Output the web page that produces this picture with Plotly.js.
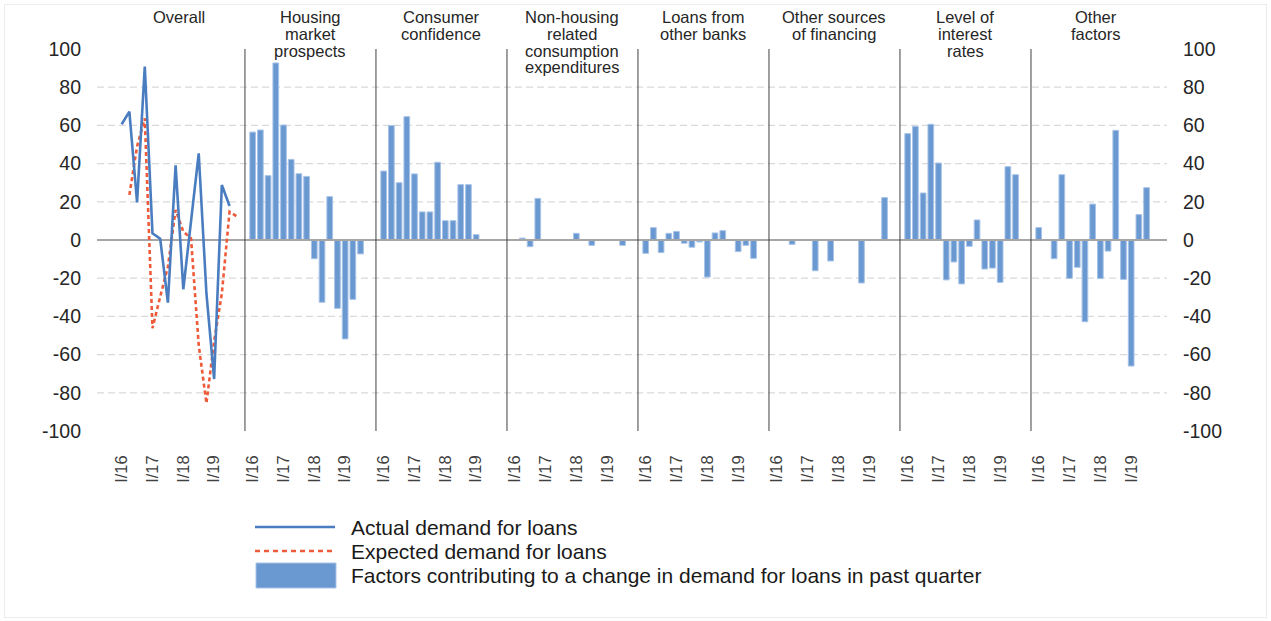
<!DOCTYPE html>
<html><head><meta charset="utf-8">
<script src="https://cdn.plot.ly/plotly-3.0.1.min.js"></script>
<style>
html,body{margin:0;padding:0;background:#fff;}
#frame{position:absolute;left:4px;top:4px;width:1261px;height:612px;border:1px solid #ececec;}
#chart{position:absolute;left:0;top:0;width:1271px;height:621px;}
</style></head><body>
<div id="frame"></div><div id="chart"></div>
<script>
// ---------------- data ----------------
const quarters = ['I/16','II/16','III/16','IV/16','I/17','II/17','III/17','IV/17','I/18','II/18','III/18','IV/18','I/19','II/19','III/19'];
const expectedQuarters = ['II/16','III/16','IV/16','I/17','II/17','III/17','IV/17','I/18','II/18','III/18','IV/18','I/19','II/19','III/19','IV/19'];
const tickQuarters = ['I/16','I/17','I/18','I/19'];
const panelTitles = ['Overall','Housing<br>market<br>prospects','Consumer<br>confidence','Non-housing<br>related<br>consumption<br>expenditures','Loans from<br>other banks','Other sources<br>of financing','Level of<br>interest<br>rates','Other<br>factors'];

const actualDemand   = [60.6, 67.2, 19.7, 90.8, 3.5, 0.7, -32.8, 39.1, -25.8, 10, 45.4, -28, -72.8, 28.8, 17.8];
const expectedDemand = [23.6, 49, 63.7, -46.2, -29.7, -14, 15.7, 4.4, 0.9, -55, -85.5, -53, -28, 14.8, 12.2];

const housingMarket        = [56.5, 57.6, 33.7, 92.7, 60.2, 42.2, 34.7, 33.3, -9.8, -32.6, 22.7, -35.8, -51.8, -31.1, -7.3];
const consumerConfidence   = [36.1, 59.9, 30.0, 64.6, 34.6, 14.7, 14.7, 40.7, 10.1, 10.1, 29.0, 29.0, 2.8, null, null];
const nonHousingConsumption= [null, 1.0, -3.5, 21.8, null, null, null, null, 3.5, null, -2.8, null, null, null, -2.8];
const loansOtherBanks      = [-7.0, 6.5, -6.6, 3.5, 4.5, -1.7, -3.8, -1.0, -19.4, 3.7, 4.9, null, -6.1, -2.8, -9.6];
const otherFinancing       = [null, null, -2.3, null, null, -16.1, null, -11.0, null, null, null, -22.5, null, null, 22.2];
const interestRates        = [55.7, 59.5, 24.6, 60.6, 40.3, -20.9, -11.5, -23.0, -3.3, 10.5, -15.2, -14.7, -22.2, 38.4, 34.2];
const otherFactors         = [6.5, null, -9.8, 34.2, -20.1, -14.3, -42.8, 18.8, -20.2, -5.8, 57.4, -20.6, -66.0, 13.3, 27.4];

const yTicks = [-100,-80,-60,-40,-20,0,20,40,60,80,100];
const gridValues = [-80,-60,-40,-20,20,40,60,80];
const legendLabels = ['Actual demand for loans','Expected demand for loans','Factors contributing to a change in demand for loans in past quarter'];

// ---------------- layout helpers ----------------
const SLOTS = 17;               // quarters + spacing per panel
const allQ = quarters.concat(['IV/19']);
function pos(panel, q){ return panel*SLOTS + 1 + allQ.indexOf(q); }
const XR = [-2.2, 136.65];
const L = 97, R = 1271-1167, T = 49, B = 621-431;
const px2x = p => (p - L)/(1271-L-R);
const px2y = p => (431 - p)/(431-49);

const BAR = '#6a98d0', BAREDGE = '#a9c4e8', BLUE = '#4a7dc0', RED = '#ee5b3a';

const barPanels = [housingMarket, consumerConfidence, nonHousingConsumption, loansOtherBanks, otherFinancing, interestRates, otherFactors];

const traces = [];
barPanels.forEach((vals, i) => {
  traces.push({
    type:'bar', x: quarters.map(q => pos(i+1, q)), y: vals, width: 0.74,
    marker:{color:BAR, line:{color:BAREDGE, width:1}},
    showlegend:false, hoverinfo:'y', name: panelTitles[i+1].replace(/<br>/g,' ')
  });
});
traces.push({type:'scatter', mode:'lines', x:[XR[0], XR[1]], y:[0,0], line:{color:'#a6a6a6', width:2}, hoverinfo:'skip', showlegend:false});
traces.push({type:'scatter', mode:'lines', x: expectedQuarters.map(q => pos(0,q)), y: expectedDemand,
  line:{color:RED, width:2.6, dash:'4px,3px'}, name: legendLabels[1], showlegend:false});
traces.push({type:'scatter', mode:'lines', x: quarters.map(q => pos(0,q)), y: actualDemand,
  line:{color:BLUE, width:2.6}, name: legendLabels[0], showlegend:false});
traces.push({type:'scatter', mode:'none', x:[0], y:[0], yaxis:'y2', hoverinfo:'skip', showlegend:false});

const tickvals = [], ticktext = [];
for (let p=0; p<8; p++) tickQuarters.forEach(q => { tickvals.push(pos(p,q)); ticktext.push(q); });

const shapes = [];
gridValues.forEach(v => shapes.push({type:'line', xref:'paper', x0:0, x1:1, yref:'y', y0:v, y1:v, layer:'below',
  line:{color:'#d9d9d9', width:1.3, dash:'7px,4px'}}));
for (let p=1; p<8; p++) shapes.push({type:'line', xref:'x', x0:p*SLOTS, x1:p*SLOTS, yref:'y', y0:-100, y1:100,
  line:{color:'#404040', width:1}});
// legend samples
shapes.push({type:'line', xref:'paper', yref:'paper', x0:px2x(255), x1:px2x(335), y0:px2y(527), y1:px2y(527), line:{color:BLUE, width:2.6}});
shapes.push({type:'line', xref:'paper', yref:'paper', x0:px2x(255), x1:px2x(335), y0:px2y(551), y1:px2y(551), line:{color:RED, width:2.6, dash:'5px,4px'}});
shapes.push({type:'rect', xref:'paper', yref:'paper', x0:px2x(256), x1:px2x(336), y0:px2y(563), y1:px2y(588), fillcolor:BAR, line:{color:BAREDGE, width:1}});

const annotations = [];
panelTitles.forEach((t, p) => {
  t.split('<br>').forEach((line, i) => annotations.push({
    text: line, xref:'x', x: p*SLOTS + 8.5, yref:'paper', y: px2y(17 + 16.8*i),
    xanchor:'center', yanchor:'middle', showarrow:false, font:{size:16.5, color:'#262626'}
  }));
});
[527, 551, 575].forEach((py, i) => annotations.push({
  text: legendLabels[i], xref:'paper', yref:'paper', x: px2x(349), y: px2y(py),
  xanchor:'left', yanchor:'middle', showarrow:false, font:{size:21, color:'#1a1a1a'}
}));

const yax = {range:[-100,100], tickvals:yTicks, ticktext:yTicks.map(String), showgrid:false, zeroline:false, showline:false, ticks:'',
  tickfont:{size:19.5, color:'#262626'}, ticklabelstandoff:15, fixedrange:true};

const layout = {
  width:1271, height:621, margin:{l:L, r:R, t:T, b:B, pad:0},
  paper_bgcolor:'rgba(0,0,0,0)', plot_bgcolor:'rgba(0,0,0,0)',
  font:{family:'"Liberation Sans", Arial, sans-serif', color:'#262626'},
  showlegend:false, bargap:0,
  xaxis:{range:XR, tickvals, ticktext, tickangle:-90, showgrid:false, zeroline:false, showline:false, ticks:'',
    tickfont:{size:16.5, color:'#404040'}, ticklabelstandoff:20, fixedrange:true},
  yaxis: yax,
  yaxis2: Object.assign({}, yax, {overlaying:'y', side:'right'}),
  shapes, annotations
};
Plotly.newPlot('chart', traces, layout, {displayModeBar:false, staticPlot:true});
</script>
</body></html>
